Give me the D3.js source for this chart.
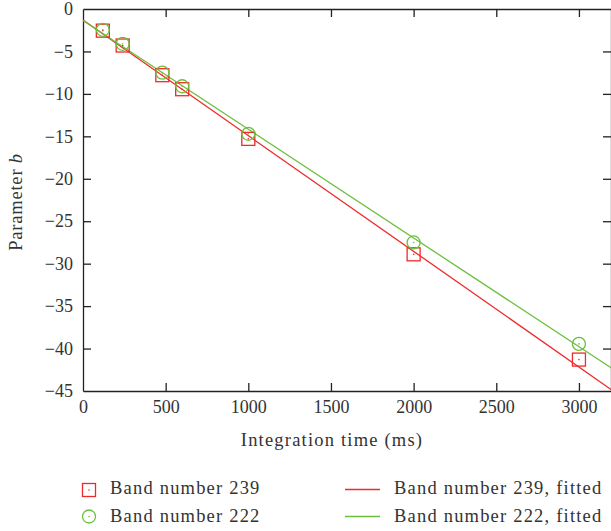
<!DOCTYPE html>
<html>
<head>
<meta charset="utf-8">
<script src="https://cdn.jsdelivr.net/npm/d3@7"></script>
<style>
  body { margin: 0; background: #fff; }
  svg { display: block; font-family: "Liberation Serif", "DejaVu Serif", serif; }
</style>
</head>
<body>
<svg id="chart" width="611" height="531"></svg>
<script>
// integration time (ms)
let times = [120, 240, 480, 600, 1000, 2000, 3000];
// parameter b, band 239 (squares) and band 222 (circles)
let band239 = [-2.55, -4.3, -7.8, -9.45, -15.3, -28.9, -41.3];
let band222 = [-2.45, -4.1, -7.5, -9.1, -14.7, -27.5, -39.45];
// fitted lines, end points
let fit239 = [[0, -1.3], [3200, -44.9]];
let fit222 = [[0, -1.35], [3200, -42.35]];

let xTicks = [0, 500, 1000, 1500, 2000, 2500, 3000];
let yTicks = [0, -5, -10, -15, -20, -25, -30, -35, -40, -45];

const RED = "#ee2a2a";
const GREEN = "#6cbf3c";

let svg = d3.select("#chart");
let pLeft = 83, pTop = 9, pRight = 612, pBottom = 391;

let x = d3.scaleLinear().domain([0, 3200]).range([pLeft, pRight]);
let y = d3.scaleLinear().domain([-45, 0]).range([pBottom, pTop]);

let fmt = d => d < 0 ? "\u2212" + Math.abs(d) : "" + d;

// axes, ticks pointing inward
let gb = svg.append("g").attr("transform", "translate(0," + pBottom + ")")
    .call(d3.axisBottom(x).tickValues(xTicks).tickSizeInner(-8).tickSizeOuter(0).tickPadding(9).tickFormat(fmt));
let gt = svg.append("g").attr("transform", "translate(0," + pTop + ")")
    .call(d3.axisTop(x).tickValues(xTicks.slice(1)).tickSizeInner(-8).tickSizeOuter(0).tickFormat(""));
let gl = svg.append("g").attr("transform", "translate(" + pLeft + ",0)")
    .call(d3.axisLeft(y).tickValues(yTicks).tickSizeInner(-8).tickSizeOuter(0).tickPadding(10).tickFormat(fmt));
let gr = svg.append("g").attr("transform", "translate(" + (pRight - 1) + ",0)")
    .call(d3.axisRight(y).tickValues(yTicks.slice(1, -1)).tickSizeInner(-8).tickSizeOuter(0).tickFormat(""));

[gb, gt, gl, gr].forEach(g => {
    g.selectAll("path.domain").attr("stroke", "#222").attr("stroke-width", 1.3);
    g.selectAll(".tick line").attr("stroke", "#222").attr("stroke-width", 1.3);
    g.selectAll(".tick text").attr("font-family", "Liberation Serif").attr("font-size", 18).attr("fill", "#333");
});
gb.selectAll(".tick").filter(d => d === 0).select("line").remove();
gl.selectAll(".tick").filter(d => d === 0 || d === -45).select("line").remove();

// clip the plot area
svg.append("clipPath").attr("id", "clip").append("rect")
    .attr("x", pLeft).attr("y", pTop).attr("width", pRight - pLeft).attr("height", pBottom - pTop);

let plot = svg.append("g").attr("clip-path", "url(#clip)");

let line = d3.line().x(d => x(d[0])).y(d => y(d[1]));
plot.append("path").datum(fit239).attr("d", line).attr("fill", "none").attr("stroke", RED).attr("stroke-width", 1.3);
plot.append("path").datum(fit222).attr("d", line).attr("fill", "none").attr("stroke", GREEN).attr("stroke-width", 1.3);

let pts239 = times.map((t, i) => [t, band239[i]]);
let pts222 = times.map((t, i) => [t, band222[i]]);

function square(g, cx, cy) {
    g.append("rect").attr("x", cx - 6.5).attr("y", cy - 6.5).attr("width", 13).attr("height", 13)
        .attr("fill", "none").attr("stroke", RED).attr("stroke-width", 1.3);
    g.append("circle").attr("cx", cx).attr("cy", cy).attr("r", 0.8).attr("fill", RED);
}
function ring(g, cx, cy) {
    g.append("circle").attr("cx", cx).attr("cy", cy).attr("r", 6.5)
        .attr("fill", "none").attr("stroke", GREEN).attr("stroke-width", 1.3);
    g.append("circle").attr("cx", cx).attr("cy", cy).attr("r", 0.8).attr("fill", GREEN);
}

pts239.forEach(d => square(plot, x(d[0]), y(d[1])));
pts222.forEach(d => ring(plot, x(d[0]), y(d[1])));

// axis titles
svg.append("text").attr("x", 332).attr("y", 446).attr("text-anchor", "middle")
    .attr("font-size", 18.5).attr("letter-spacing", 1.2).attr("fill", "#333").text("Integration time (ms)");
let yt = svg.append("text").attr("transform", "translate(22,202) rotate(-90)")
    .attr("text-anchor", "middle").attr("font-size", 18.5).attr("letter-spacing", 0.8).attr("fill", "#333");
yt.append("tspan").text("Parameter ");
yt.append("tspan").attr("font-style", "italic").text("b");

// legend
let leg = svg.append("g").attr("font-size", 18.5).attr("letter-spacing", 1.2).attr("fill", "#333");
square(leg, 89, 490);
ring(leg, 89, 516.5);
leg.append("text").attr("x", 110).attr("y", 494).text("Band number 239");
leg.append("text").attr("x", 110).attr("y", 522).text("Band number 222");
leg.append("line").attr("x1", 345).attr("x2", 380).attr("y1", 489.5).attr("y2", 489.5).attr("stroke", RED).attr("stroke-width", 1.3);
leg.append("line").attr("x1", 345).attr("x2", 380).attr("y1", 516.5).attr("y2", 516.5).attr("stroke", GREEN).attr("stroke-width", 1.3);
leg.append("text").attr("x", 394).attr("y", 494).text("Band number 239, fitted");
leg.append("text").attr("x", 394).attr("y", 522).text("Band number 222, fitted");
</script>
</body>
</html>
